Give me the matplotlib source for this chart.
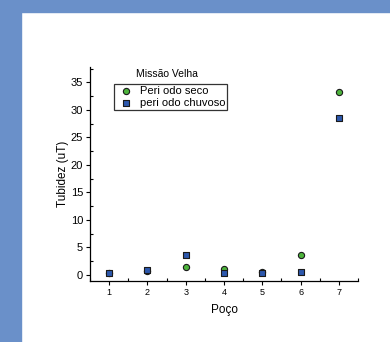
import matplotlib
matplotlib.use("Agg")
import matplotlib.pyplot as plt
from matplotlib.ticker import MultipleLocator

# -----------------------------
# Data
# -----------------------------
pocos = [1, 2, 3, 4, 5, 6, 7]
seco = [0.4, 0.7, 1.5, 1.1, 0.6, 3.6, 33.2]
chuvoso = [0.4, 0.9, 3.7, 0.4, 0.4, 0.5, 28.6]

plt.rcParams["font.family"] = ["Liberation Sans", "DejaVu Sans"]

fig = plt.figure(figsize=(3.9, 3.42), dpi=100)
fig.patch.set_facecolor("white")

# blue frame strips (left and top)
fig.patches.append(plt.Rectangle((0, 0), 21 / 390, 1, transform=fig.transFigure,
                                 color="#6a90c9", zorder=0))
fig.patches.append(plt.Rectangle((0, 1 - 12 / 342), 1, 12 / 342, transform=fig.transFigure,
                                 color="#6a90c9", zorder=0))

ax = fig.add_axes([90 / 390, 1 - 281 / 342, 268 / 390, 214 / 342])
ax.set_facecolor("none")

ax.scatter(pocos, seco, marker="o", s=20, facecolor="#4db43c", edgecolor="#1a1a1a",
           linewidth=0.8, label="Peri odo seco", zorder=3)
ax.scatter(pocos, chuvoso, marker="s", s=18, facecolor="#2d58ad", edgecolor="#1a1a1a",
           linewidth=0.8, label="peri odo chuvoso", zorder=3)

ax.set_xlim(0.5, 7.5)
ax.set_ylim(-1.1, 37.8)
ax.xaxis.set_major_locator(MultipleLocator(1))
ax.xaxis.set_minor_locator(MultipleLocator(0.5))
ax.yaxis.set_major_locator(MultipleLocator(5))
ax.yaxis.set_minor_locator(MultipleLocator(2.5))

ax.spines["top"].set_visible(False)
ax.spines["right"].set_visible(False)
for s in ["left", "bottom"]:
    ax.spines[s].set_linewidth(0.9)

ax.tick_params(which="major", direction="out", length=3, width=0.8, labelsize=8, pad=2)
ax.tick_params(which="minor", direction="in", length=2.5, width=0.8)
ax.tick_params(axis="x", labelsize=6.5)

ax.set_xlabel("Poço", fontsize=8.5, labelpad=5)
ax.set_ylabel("Tubidez (uT)", fontsize=8.5, labelpad=1)

ax.text(0.17, 0.965, "Missão Velha", transform=ax.transAxes, fontsize=7.5,
        ha="left", va="center")

leg = ax.legend(loc="upper left", bbox_to_anchor=(0.09, 0.92), fontsize=8,
                frameon=True, fancybox=False, edgecolor="black", borderpad=0.2,
                handletextpad=0.3, labelspacing=0.15, handlelength=1.8,
                borderaxespad=0)
leg.get_frame().set_linewidth(0.9)

fig.savefig("out.png", dpi=100)
